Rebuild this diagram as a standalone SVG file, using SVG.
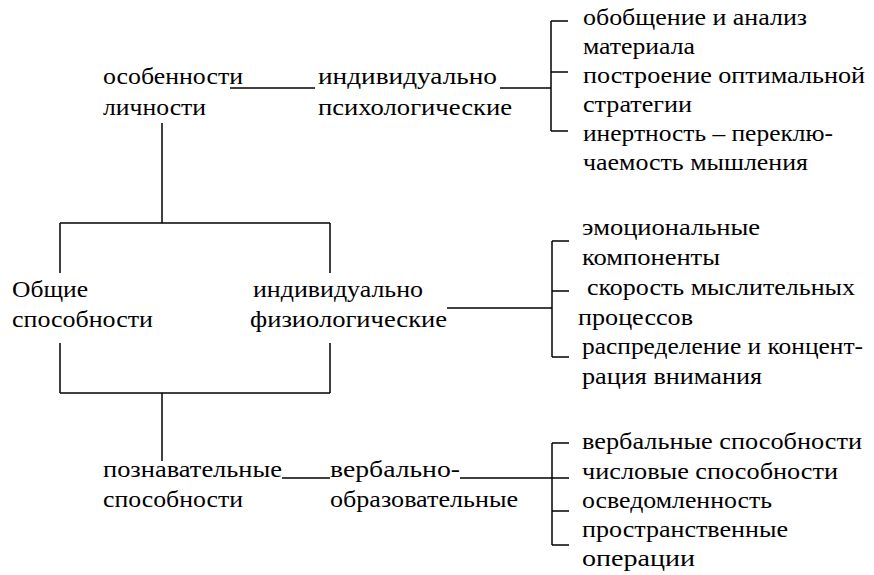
<svg xmlns="http://www.w3.org/2000/svg" width="874" height="575" viewBox="0 0 874 575" font-family="Liberation Serif, DejaVu Serif, serif" font-size="24">
<style>
.c line{stroke:#000;stroke-width:1.5;fill:none}
</style>
<rect width="874" height="575" fill="#fff"/>
<g class="c" id="connectors">
<line x1="230" y1="88" x2="315" y2="88"/>
<line x1="500" y1="88" x2="551" y2="88"/>
<line x1="551" y1="21" x2="551" y2="131"/>
<line x1="551" y1="21" x2="568" y2="21"/>
<line x1="551" y1="72" x2="568" y2="72"/>
<line x1="551" y1="131" x2="568" y2="131"/>
<line x1="162" y1="123" x2="162" y2="223"/>
<line x1="60" y1="223" x2="330" y2="223"/>
<line x1="60" y1="223" x2="60" y2="273"/>
<line x1="330" y1="223" x2="330" y2="273"/>
<line x1="60" y1="343" x2="60" y2="393"/>
<line x1="330" y1="343" x2="330" y2="393"/>
<line x1="60" y1="393" x2="330" y2="393"/>
<line x1="162" y1="393" x2="162" y2="461"/>
<line x1="447" y1="308" x2="552" y2="308"/>
<line x1="552" y1="241" x2="552" y2="357"/>
<line x1="552" y1="241" x2="569" y2="241"/>
<line x1="552" y1="291" x2="569" y2="291"/>
<line x1="552" y1="357" x2="569" y2="357"/>
<line x1="282" y1="478" x2="330" y2="478"/>
<line x1="460" y1="478" x2="569" y2="478"/>
<line x1="552" y1="443" x2="552" y2="545"/>
<line x1="552" y1="443" x2="569" y2="443"/>
<line x1="552" y1="511" x2="569" y2="511"/>
<line x1="552" y1="545" x2="569" y2="545"/>
</g>
<g id="osobennosti"><text x="103" y="84" textLength="140" lengthAdjust="spacingAndGlyphs">особенности</text><text x="103" y="115" textLength="103" lengthAdjust="spacingAndGlyphs">личности</text></g>
<g id="psych"><text x="318" y="84" textLength="179" lengthAdjust="spacingAndGlyphs">индивидуально</text><text x="318" y="115" textLength="194" lengthAdjust="spacingAndGlyphs">психологические</text></g>
<g id="psych-list">
<text x="583" y="25" textLength="224" lengthAdjust="spacingAndGlyphs">обобщение и анализ</text>
<text x="583" y="54" textLength="112" lengthAdjust="spacingAndGlyphs">материала</text>
<text x="583" y="83" textLength="282" lengthAdjust="spacingAndGlyphs">построение оптимальной</text>
<text x="583" y="112" textLength="109" lengthAdjust="spacingAndGlyphs">стратегии</text>
<text x="583" y="141" textLength="250" lengthAdjust="spacingAndGlyphs">инертность – переклю-</text>
<text x="583" y="170" textLength="225" lengthAdjust="spacingAndGlyphs">чаемость мышления</text>
</g>
<g id="obshie"><text x="12" y="297" textLength="76" lengthAdjust="spacingAndGlyphs">Общие</text><text x="12" y="327" textLength="141" lengthAdjust="spacingAndGlyphs">способности</text></g>
<g id="phys"><text x="253" y="297" textLength="170" lengthAdjust="spacingAndGlyphs">индивидуально</text><text x="250" y="327" textLength="197" lengthAdjust="spacingAndGlyphs">физиологические</text></g>
<g id="phys-list">
<text x="582" y="235" textLength="178" lengthAdjust="spacingAndGlyphs">эмоциональные</text>
<text x="582" y="265" textLength="138" lengthAdjust="spacingAndGlyphs">компоненты</text>
<text x="587" y="295" textLength="268" lengthAdjust="spacingAndGlyphs">скорость мыслительных</text>
<text x="578" y="325" textLength="115" lengthAdjust="spacingAndGlyphs">процессов</text>
<text x="582" y="354" textLength="281" lengthAdjust="spacingAndGlyphs">распределение и концент-</text>
<text x="582" y="384" textLength="180" lengthAdjust="spacingAndGlyphs">рация внимания</text>
</g>
<g id="poznav"><text x="103" y="477" textLength="179" lengthAdjust="spacingAndGlyphs">познавательные</text><text x="103" y="507" textLength="140" lengthAdjust="spacingAndGlyphs">способности</text></g>
<g id="verbal"><text x="330" y="477" textLength="130" lengthAdjust="spacingAndGlyphs">вербально-</text><text x="330" y="507" textLength="188" lengthAdjust="spacingAndGlyphs">образовательные</text></g>
<g id="verbal-list">
<text x="582" y="449" textLength="280" lengthAdjust="spacingAndGlyphs">вербальные способности</text>
<text x="582" y="479" textLength="256" lengthAdjust="spacingAndGlyphs">числовые способности</text>
<text x="582" y="508" textLength="190" lengthAdjust="spacingAndGlyphs">осведомленность</text>
<text x="582" y="537" textLength="206" lengthAdjust="spacingAndGlyphs">пространственные</text>
<text x="582" y="566" textLength="113" lengthAdjust="spacingAndGlyphs">операции</text>
</g>
</svg>
